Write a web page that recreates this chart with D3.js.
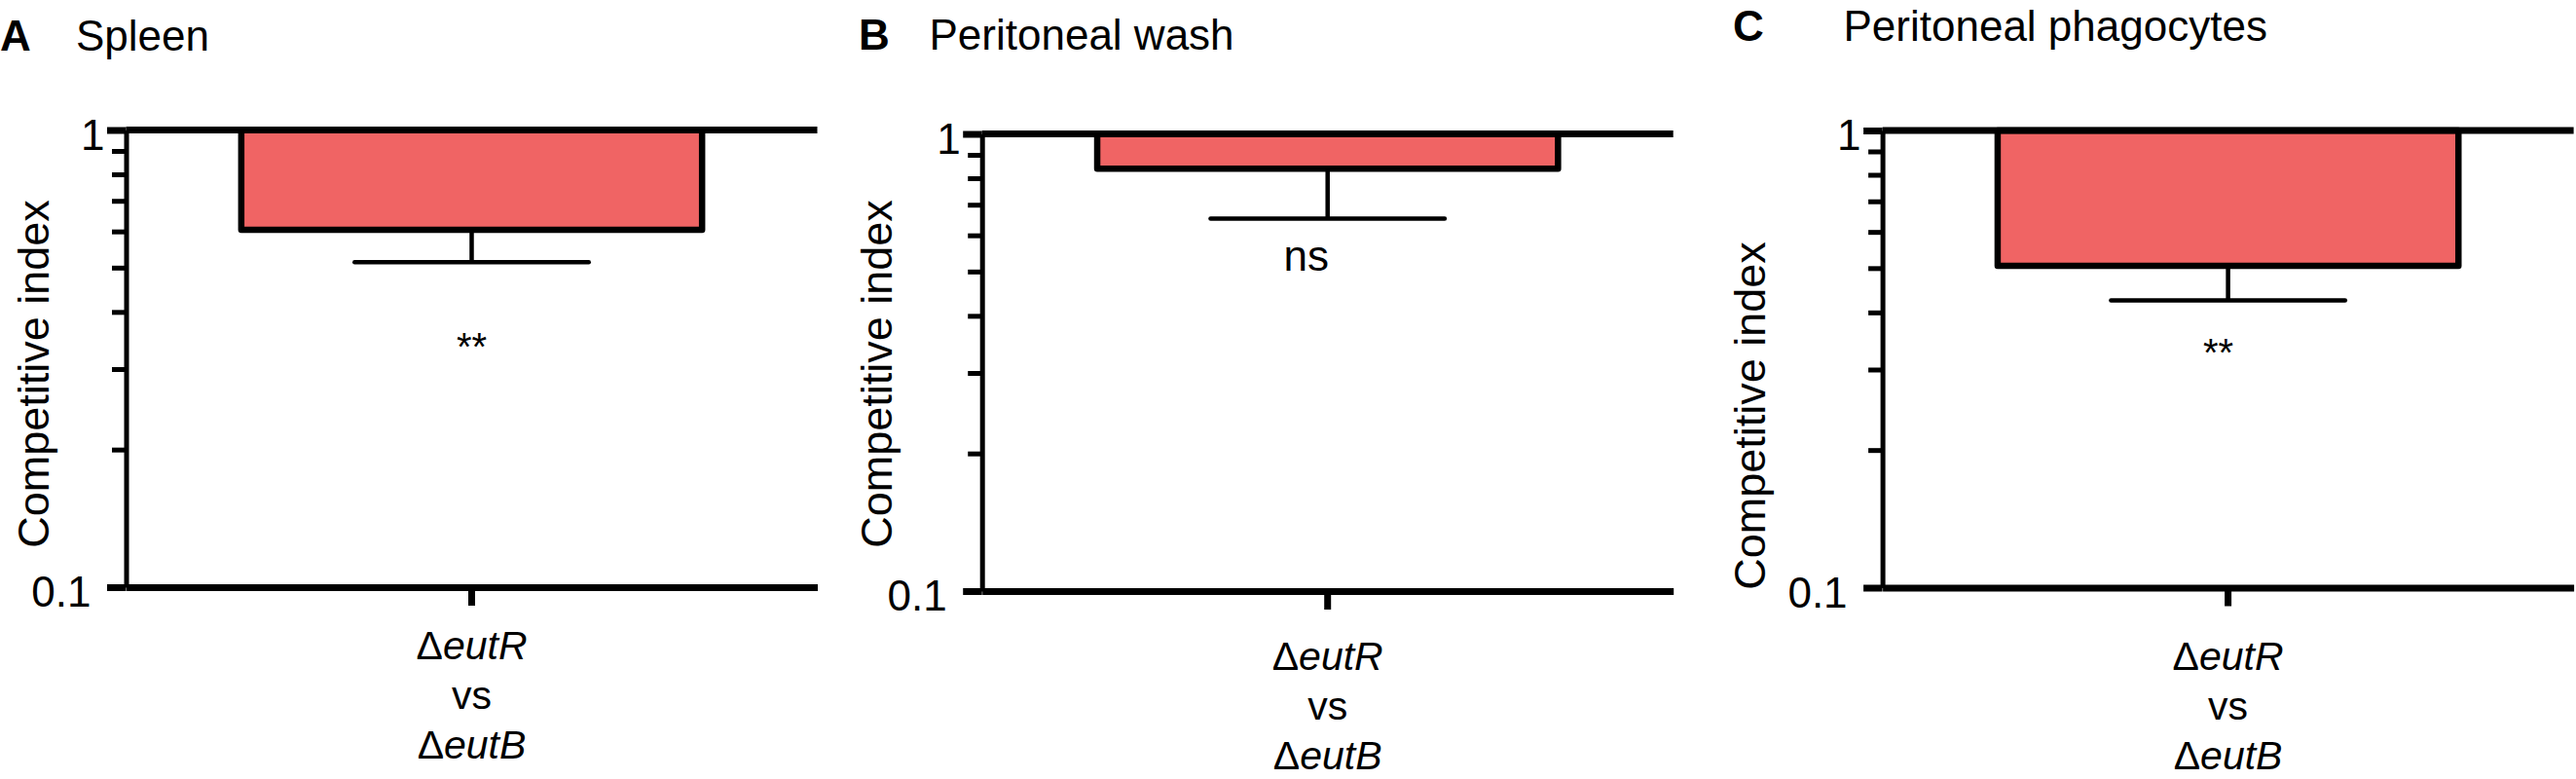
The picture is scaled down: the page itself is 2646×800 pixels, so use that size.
<!DOCTYPE html>
<html>
<head>
<meta charset="utf-8">
<script src="https://cdn.jsdelivr.net/npm/d3@7"></script>
<style>
  body { margin: 0; background: #fff; }
  text { font-family: "Liberation Sans", Arial, sans-serif; fill: #000; }
</style>
</head>
<body>
<div id="chart"></div>
<script>
// Chart data
var panelLetters = ["A", "B", "C"];
var panelTitles = ["Spleen", "Peritoneal wash", "Peritoneal phagocytes"];
var categories = ["ΔeutR vs ΔeutB"];
var categoryLines = ["ΔeutR", "vs", "ΔeutB"];
var meanIndex = [0.605, 0.839, 0.506];
var errorLow = [0.514, 0.653, 0.425];
var sigLabels = ["**", "ns", "**"];
var yTickValues = [0.1, 1];
var yMinorTicks = [0.2, 0.3, 0.4, 0.5, 0.6, 0.7, 0.8, 0.9];
var yLabel = "Competitive index";

// Layout per panel (pixels)
var layout = [
  {axisX: 129.5, top: 133.5, letterX: 0, titleX: 78, titleY: 52, yLabelX: 50, yLabelY: 384, sigDx: 0, sigY: 370, sigSize: 40, catY: 677},
  {axisX: 1008.7, top: 137.5, letterX: 882, titleX: 954.5, titleY: 51, yLabelX: 916, yLabelY: 384, sigDx: -22, sigY: 278, sigSize: 44, catY: 688},
  {axisX: 1933.6, top: 134, letterX: 1780, titleX: 1893.5, titleY: 42, yLabelX: 1813, yLabelY: 427, sigDx: -10, sigY: 376, sigSize: 40, catY: 688}
];

var svgWidth = 2646;
var svgHeight = 800;
var plotWidth = 710;
var plotHeight = 469.5;

var svg = d3.select("#chart")
  .append("svg")
  .attr("width", svgWidth)
  .attr("height", svgHeight);

svg.append("rect").attr("width", svgWidth).attr("height", svgHeight).attr("fill", "#fff");

panelLetters.forEach(function(letter, i) {
  var L = layout[i];

  // Panel letter and title
  svg.append("text")
    .attr("x", L.letterX)
    .attr("y", L.titleY)
    .attr("font-size", 44)
    .attr("font-weight", "bold")
    .text(letter);

  svg.append("text")
    .attr("x", L.titleX)
    .attr("y", L.titleY)
    .attr("font-size", 44)
    .text(panelTitles[i]);

  // Y axis label
  svg.append("text")
    .attr("transform", `translate(${L.yLabelX}, ${L.yLabelY}) rotate(-90)`)
    .attr("text-anchor", "middle")
    .attr("font-size", 45)
    .text(yLabel);

  var g = svg.append("g")
    .attr("transform", `translate(${L.axisX}, ${L.top})`);

  var y = d3.scaleLog()
    .domain([0.1, 1])
    .range([plotHeight, 0]);

  var x = d3.scaleBand()
    .domain(categories)
    .range([0, plotWidth])
    .paddingInner(0)
    .paddingOuter(0.25);

  var bw = x.bandwidth();
  var cx = x(categories[0]) + bw / 2;

  // Error bars (drawn first so the bar outline sits on top)
  var err = g.append("g").attr("stroke", "#000").attr("stroke-width", 4.5);
  err.append("line")
    .attr("x1", cx).attr("x2", cx)
    .attr("y1", y(meanIndex[i])).attr("y2", y(errorLow[i]));
  err.append("line")
    .attr("x1", cx - bw * 0.254).attr("x2", cx + bw * 0.254)
    .attr("y1", y(errorLow[i])).attr("y2", y(errorLow[i]))
    .attr("stroke-linecap", "round");

  // Bar hanging from 1
  g.selectAll(".bar")
    .data(categories)
    .enter()
    .append("rect")
    .attr("class", "bar")
    .attr("x", d => x(d))
    .attr("y", y(1))
    .attr("width", bw)
    .attr("height", y(meanIndex[i]) - y(1))
    .attr("fill", "#f06464")
    .attr("stroke", "#000")
    .attr("stroke-width", 6.5)
    .attr("stroke-linejoin", "round");

  // Line at y = 1
  g.append("line")
    .attr("x1", x.range()[0]).attr("x2", x.range()[1])
    .attr("y1", y(1)).attr("y2", y(1))
    .attr("stroke", "#000")
    .attr("stroke-width", 7);

  // Minor ticks
  var minorAxis = g.append("g")
    .call(d3.axisLeft(y).tickValues(yMinorTicks).tickSize(14.5).tickFormat(""));
  minorAxis.select(".domain").remove();
  minorAxis.selectAll("line").attr("stroke-width", 5);

  // Major y axis
  var yAxis = g.append("g")
    .call(d3.axisLeft(y).tickValues(yTickValues).tickSize(19.5).tickSizeOuter(0).tickPadding(2.5).tickFormat(d3.format("")));
  yAxis.select(".domain").attr("stroke-width", 5);
  yAxis.selectAll("line").attr("stroke-width", 7);
  yAxis.selectAll("text")
    .attr("font-size", 44)
    .attr("font-family", "Liberation Sans, Arial, sans-serif")
    .attr("dy", "0.449em")
    .attr("dx", d => d < 1 ? -14 : 0);

  // X axis
  var xAxis = g.append("g")
    .attr("transform", `translate(0, ${plotHeight})`)
    .call(d3.axisBottom(x).tickSize(19).tickSizeOuter(0).tickFormat(""));
  xAxis.select(".domain").attr("stroke-width", 7);
  xAxis.selectAll("line").attr("stroke-width", 7);

  // Significance label
  g.append("text")
    .attr("x", cx + L.sigDx)
    .attr("y", L.sigY - L.top)
    .attr("text-anchor", "middle")
    .attr("font-size", L.sigSize)
    .text(sigLabels[i]);

  // Category label (three lines)
  var cat = g.append("text")
    .attr("x", cx)
    .attr("y", L.catY - L.top)
    .attr("text-anchor", "middle")
    .attr("font-size", 41);
  categoryLines.forEach(function(line, k) {
    var t = cat.append("tspan")
      .attr("x", cx)
      .attr("dy", k === 0 ? 0 : 51);
    if (line.charAt(0) === "Δ") {
      t.append("tspan").text("Δ");
      t.append("tspan").attr("font-style", "italic").text(line.slice(1));
    } else {
      t.text(line);
    }
  });
});
</script>
</body>
</html>
